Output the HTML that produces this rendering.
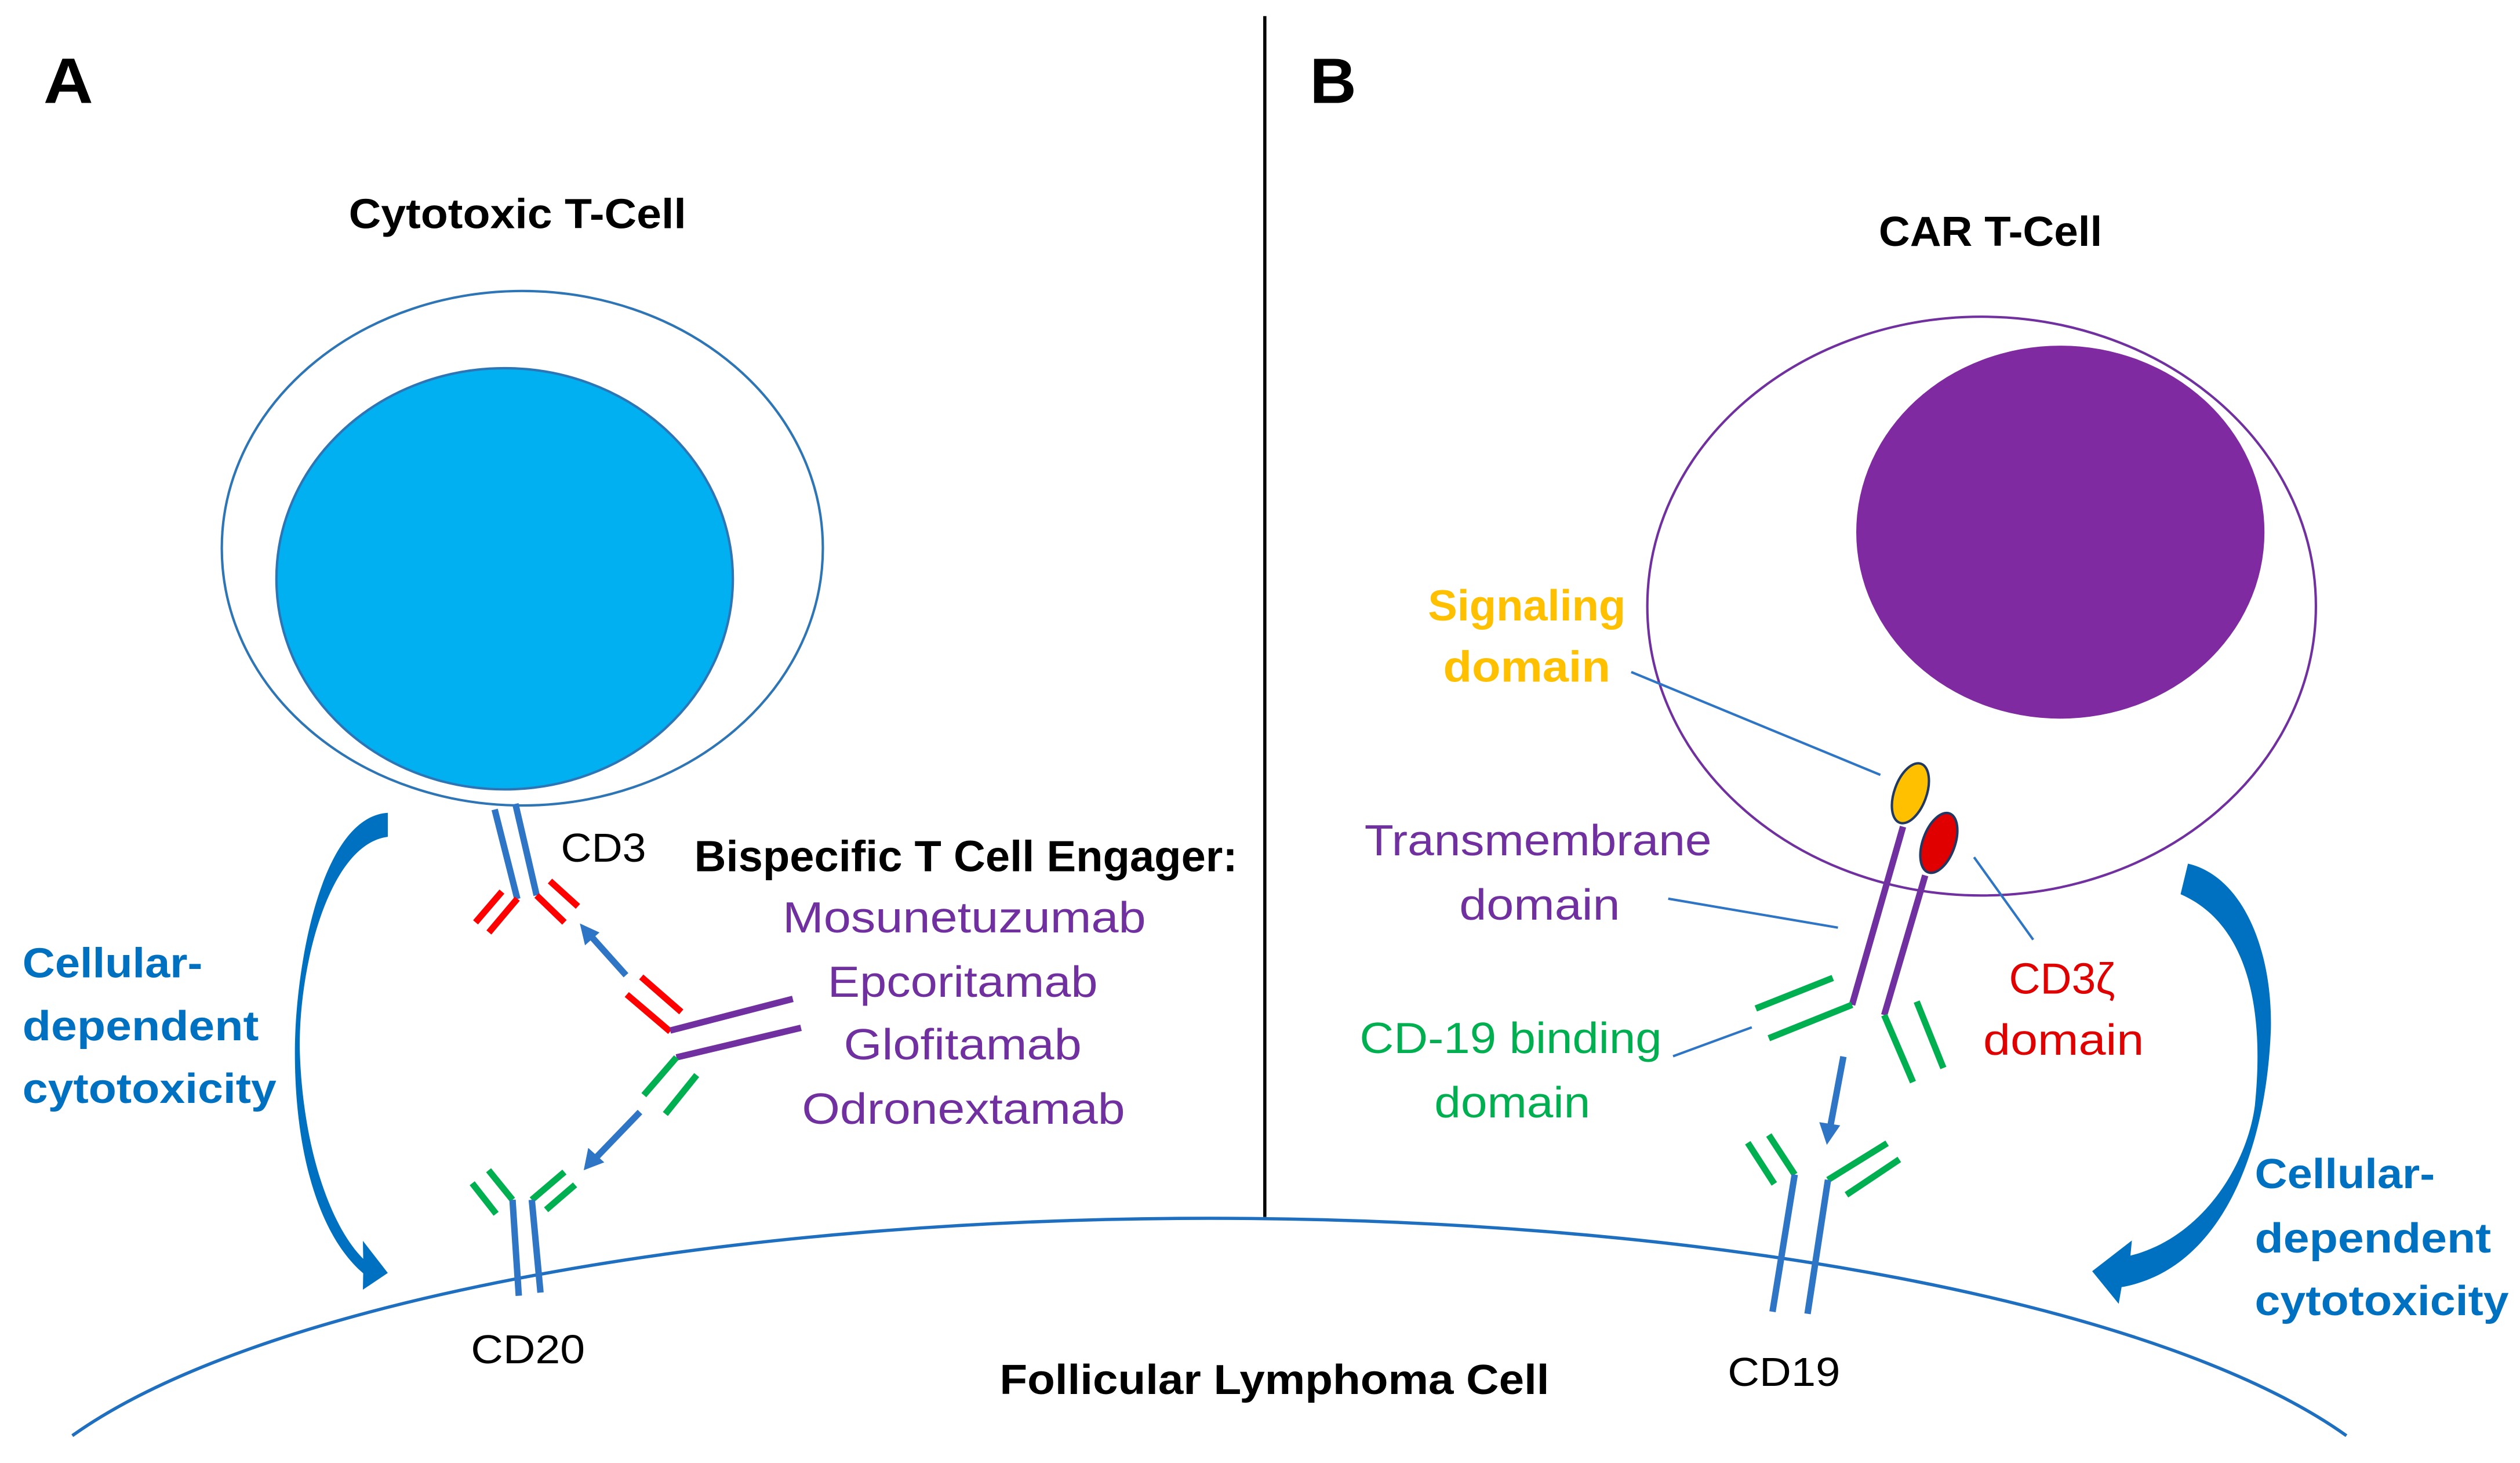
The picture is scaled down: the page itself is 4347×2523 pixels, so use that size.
<!DOCTYPE html>
<html><head><meta charset="utf-8"><style>html,body{margin:0;padding:0;background:#fff}svg{display:block}</style></head>
<body>
<svg width="4347" height="2523" viewBox="0 0 1568 910" preserveAspectRatio="none" xmlns="http://www.w3.org/2000/svg" font-family="Liberation Sans, sans-serif">
<rect width="1568" height="910" fill="#fff"/>
<line x1="787" y1="10" x2="787" y2="757" stroke="#000" stroke-width="2"/>
<path d="M45,893 A760,213 0 0 1 1460,893" fill="none" stroke="#1f6fc0" stroke-width="2"/>
<text x="27" y="64" font-size="40" font-weight="bold" textLength="31" lengthAdjust="spacingAndGlyphs">A</text>
<text x="815" y="64" font-size="40" font-weight="bold" textLength="29" lengthAdjust="spacingAndGlyphs">B</text>

<ellipse cx="325" cy="341" rx="187" ry="160" fill="none" stroke="#2e75b6" stroke-width="1.5"/>
<ellipse cx="314" cy="360" rx="142" ry="131" fill="#00b0f0" stroke="#2e75b6" stroke-width="1.5"/>
<g stroke-width="4" fill="none">
<line x1="307.8" y1="503.5" x2="321.9" y2="559.2" stroke="#2e75c6"/>
<line x1="320.7" y1="500" x2="333.9" y2="556.9" stroke="#2e75c6"/>
<line x1="321.9" y1="559" x2="304.2" y2="580" stroke="#f00"/>
<line x1="312.3" y1="554.6" x2="295.9" y2="573.7" stroke="#f00"/>
<line x1="333.9" y1="557" x2="351.2" y2="573.7" stroke="#f00"/>
<line x1="342.2" y1="548" x2="359.6" y2="563.8" stroke="#f00"/>
<line x1="390" y1="618.6" x2="417" y2="641.6" stroke="#f00"/>
<line x1="399" y1="607.7" x2="423.9" y2="629.4" stroke="#f00"/>
<line x1="417" y1="641" x2="493.3" y2="621.3" stroke="#7030a0"/>
<line x1="420.9" y1="657.7" x2="498.4" y2="639.3" stroke="#7030a0"/>
<line x1="420.9" y1="657.7" x2="400.6" y2="681.2" stroke="#00b050"/>
<line x1="433.5" y1="668.7" x2="414" y2="692.9" stroke="#00b050"/>
<line x1="318.9" y1="746.3" x2="304" y2="727.9" stroke="#00b050"/>
<line x1="308.7" y1="755" x2="293.8" y2="736" stroke="#00b050"/>
<line x1="330.9" y1="746.3" x2="351.2" y2="729" stroke="#00b050"/>
<line x1="339.8" y1="752.5" x2="357.8" y2="737" stroke="#00b050"/>
<line x1="318.9" y1="746.3" x2="322.8" y2="806" stroke="#2e75c6"/>
<line x1="330.9" y1="746.3" x2="336.3" y2="804" stroke="#2e75c6"/>
<line x1="389.5" y1="606.6" x2="367" y2="581.5" stroke="#2e75c6"/>
<line x1="398.2" y1="691.7" x2="369" y2="722" stroke="#2e75c6"/>
</g>
<polygon points="360.8,574.4 373,580 364,588" fill="#2e75c6"/>
<polygon points="363.2,727.9 366,714 376,723" fill="#2e75c6"/>
<!-- left curved arrow -->
<path d="M241.3,505.6 C200,508 184,600 183.5,652 C183,720 200,770 226,792 L225.8,802.2 L241.3,791.8 L225.8,771.8 L226,783 C205,762 188,712 186.5,652 C186,600 205,525 241.3,520.5 Z" fill="#0070c0"/>

<text x="217" y="142" font-size="26" font-weight="bold" textLength="210" lengthAdjust="spacingAndGlyphs">Cytotoxic T-Cell</text>
<text x="349" y="536" font-size="25" textLength="53" lengthAdjust="spacingAndGlyphs">CD3</text>
<text x="432" y="542" font-size="27" font-weight="bold" textLength="338" lengthAdjust="spacingAndGlyphs">Bispecific T Cell Engager:</text>
<g fill="#7030a0" font-size="27">
<text x="487" y="580" textLength="226" lengthAdjust="spacingAndGlyphs">Mosunetuzumab</text>
<text x="515" y="620" textLength="168" lengthAdjust="spacingAndGlyphs">Epcoritamab</text>
<text x="525" y="659" textLength="148" lengthAdjust="spacingAndGlyphs">Glofitamab</text>
<text x="499" y="699" textLength="201" lengthAdjust="spacingAndGlyphs">Odronextamab</text>
</g>
<g fill="#0070c0" font-size="26" font-weight="bold">
<text x="14" y="608" textLength="112" lengthAdjust="spacingAndGlyphs">Cellular-</text>
<text x="14" y="647" textLength="147" lengthAdjust="spacingAndGlyphs">dependent</text>
<text x="14" y="686" textLength="158" lengthAdjust="spacingAndGlyphs">cytotoxicity</text>
<text x="1403" y="739" textLength="112" lengthAdjust="spacingAndGlyphs">Cellular-</text>
<text x="1403" y="779" textLength="147" lengthAdjust="spacingAndGlyphs">dependent</text>
<text x="1403" y="818" textLength="158" lengthAdjust="spacingAndGlyphs">cytotoxicity</text>
</g>
<text x="293" y="848" font-size="25" textLength="71" lengthAdjust="spacingAndGlyphs">CD20</text>
<text x="622" y="867" font-size="26" font-weight="bold" textLength="342" lengthAdjust="spacingAndGlyphs">Follicular Lymphoma Cell</text>

<ellipse cx="1233" cy="377" rx="208" ry="180" fill="none" stroke="#7030a0" stroke-width="1.5"/>
<ellipse cx="1282" cy="331" rx="127" ry="116" fill="#7f2aa0"/>
<g stroke="#2e75c6" stroke-width="1.5">
<line x1="1015" y1="418" x2="1170" y2="482"/>
<line x1="1038" y1="559" x2="1143.6" y2="577"/>
<line x1="1041" y1="657" x2="1090" y2="639"/>
<line x1="1228.3" y1="533.2" x2="1265.1" y2="584.5"/>
</g>
<g stroke-width="4">
<line x1="1184.1" y1="514.2" x2="1152.4" y2="625" stroke="#7030a0"/>
<line x1="1197.9" y1="544.5" x2="1172.4" y2="631.4" stroke="#7030a0"/>
<line x1="1152.4" y1="625" x2="1100.6" y2="645.8" stroke="#00b050"/>
<line x1="1140.4" y1="608.3" x2="1092.5" y2="627.3" stroke="#00b050"/>
<line x1="1172.4" y1="631.4" x2="1190.3" y2="673.1" stroke="#00b050"/>
<line x1="1192.6" y1="623" x2="1209.2" y2="664.3" stroke="#00b050"/>
<line x1="1116.7" y1="730.6" x2="1100.6" y2="706" stroke="#00b050"/>
<line x1="1104" y1="736.4" x2="1087.5" y2="710.8" stroke="#00b050"/>
<line x1="1137.4" y1="733.9" x2="1174.2" y2="711.1" stroke="#00b050"/>
<line x1="1148.9" y1="743.2" x2="1181.8" y2="721.2" stroke="#00b050"/>
<line x1="1116.7" y1="730.6" x2="1102.9" y2="815.9" stroke="#2e75c6"/>
<line x1="1137.4" y1="733.9" x2="1124.7" y2="817.2" stroke="#2e75c6"/>
<line x1="1147" y1="657.2" x2="1139" y2="700" stroke="#2e75c6"/>
</g>
<polygon points="1136.7,712.1 1132,698 1145,700" fill="#2e75c6"/>
<ellipse cx="1188.7" cy="493.4" rx="10" ry="19.5" transform="rotate(20 1188.7 493.4)" fill="#ffc000" stroke="#1f3864" stroke-width="1.5"/>
<ellipse cx="1206.4" cy="524.3" rx="10" ry="19.5" transform="rotate(20 1206.4 524.3)" fill="#e00000" stroke="#1f3864" stroke-width="1.5"/>
<!-- right curved arrow -->
<path d="M1361.4,537.2 C1395,545 1414,590 1413,640 C1410,720 1380,790 1320.1,800.6 L1318.3,811 L1301.8,790.7 L1326.5,771.6 L1325.6,781 C1370,770 1398,725 1403,688 C1409,630 1400,575 1356.8,556.2 Z" fill="#0070c0"/>

<text x="1169" y="153" font-size="26" font-weight="bold" textLength="139" lengthAdjust="spacingAndGlyphs">CAR T-Cell</text>
<g font-size="27" text-anchor="middle">
<text x="950" y="386" fill="#ffc000" font-weight="bold" textLength="123" lengthAdjust="spacingAndGlyphs">Signaling</text>
<text x="950" y="424" fill="#ffc000" font-weight="bold" textLength="104" lengthAdjust="spacingAndGlyphs">domain</text>
<text x="957" y="532" fill="#7030a0" textLength="216" lengthAdjust="spacingAndGlyphs">Transmembrane</text>
<text x="958" y="572" fill="#7030a0" textLength="100" lengthAdjust="spacingAndGlyphs">domain</text>
<text x="940" y="655" fill="#00b050" textLength="188" lengthAdjust="spacingAndGlyphs">CD-19 binding</text>
<text x="941" y="695" fill="#00b050" textLength="97" lengthAdjust="spacingAndGlyphs">domain</text>
<text x="1283" y="618" fill="#e00000">CD3ζ</text>
<text x="1284" y="656" fill="#e00000" textLength="100" lengthAdjust="spacingAndGlyphs">domain</text>
</g>
<text x="1075" y="862" font-size="25" textLength="70" lengthAdjust="spacingAndGlyphs">CD19</text>
</svg>
</body></html>
